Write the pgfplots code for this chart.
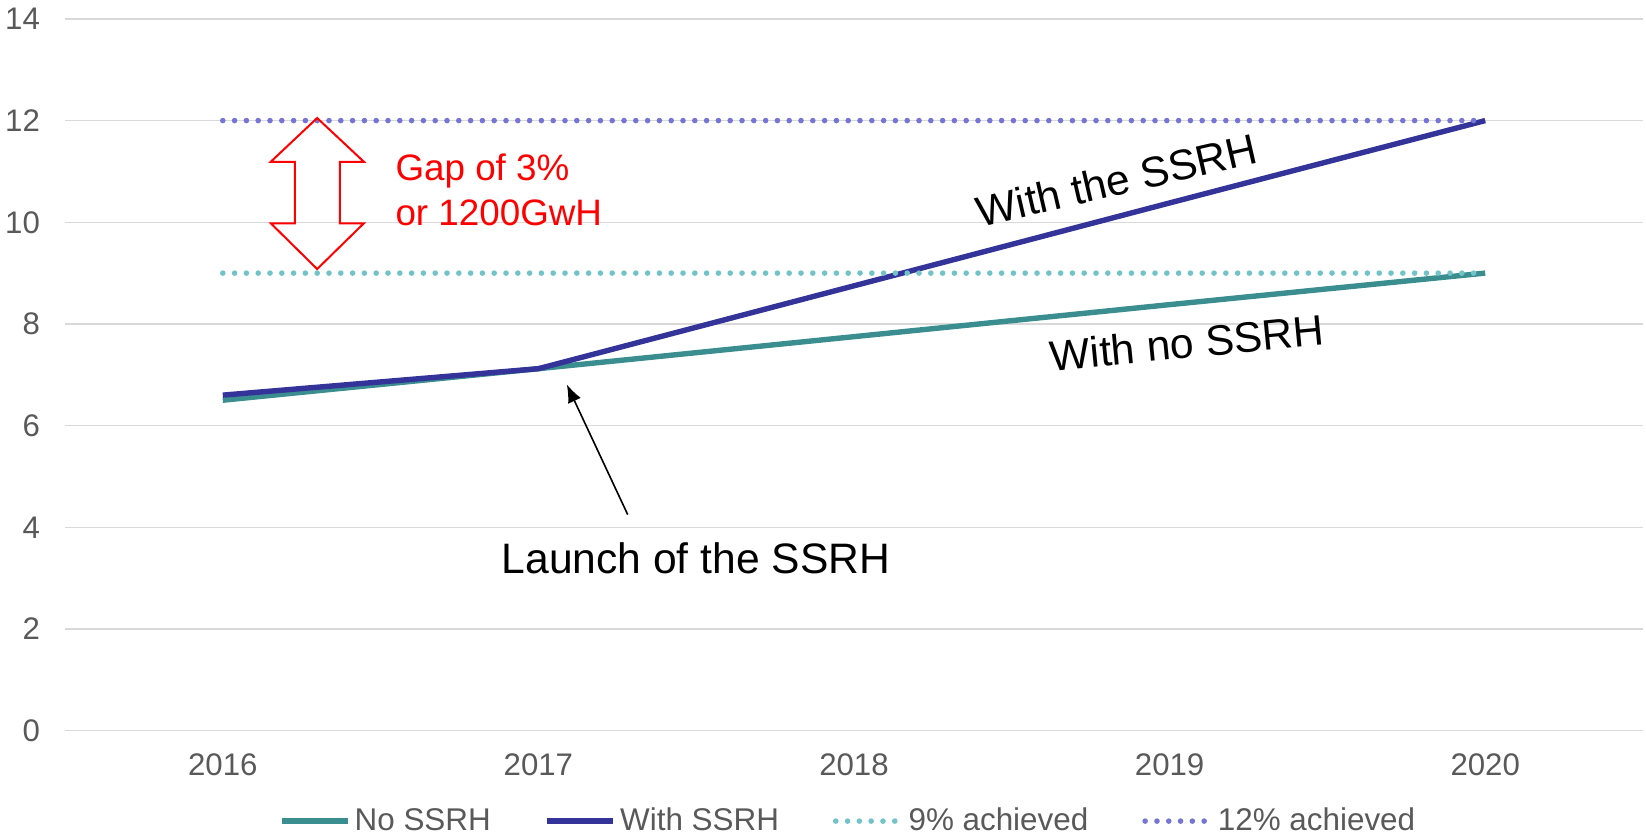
\documentclass[border=0pt]{standalone}
\usepackage{pgfplots}
\pgfplotsset{compat=1.18}
\usepackage{fontspec}
\setmainfont{Liberation Sans}
\usetikzlibrary{arrows.meta,calc}
\definecolor{noss}{HTML}{3A8E90}
\definecolor{withss}{HTML}{333399}
\definecolor{nine}{HTML}{72C3C8}
\definecolor{twelve}{HTML}{7575D6}
\definecolor{gridc}{HTML}{D9D9D9}
\definecolor{tickc}{HTML}{595959}
\begin{document}
\begin{tikzpicture}
\begin{axis}[name=ax, scale only axis, width=789pt, height=355.9pt,
  xmin=-0.5, xmax=4.5, ymin=0, ymax=14,
  xtick={0,1,2,3,4}, xticklabels={2016,2017,2018,2019,2020},
  ytick={0,2,4,6,8,10,12,14},
  ymajorgrids, grid style={draw=gridc, line width=0.75pt},
  axis line style={draw=none}, major tick length=0pt,
  tick label style={font=\fontsize{15.6}{18}\selectfont, text=tickc},
  yticklabel style={xshift=-9pt},
  xticklabel style={yshift=-8pt},
  /pgf/number format/assume math mode=true,
  clip=false,
  legend columns=4,
  legend style={at={(0.497,0)}, yshift=-45.2pt, anchor=center, draw=none,
    font=\fontsize{15.7}{18}\selectfont, text=tickc,
    /tikz/every even column/.append style={column sep=25pt}},
  legend image code/.code={\draw[#1] (0pt,0pt) -- (33pt,0pt);},
]
\addplot[noss, line width=2.7pt] coordinates {(0,6.5) (1,7.12) (2,7.75) (3,8.38) (4,9.0)};
\addlegendentry{No SSRH}
\addplot[withss, line width=2.7pt] coordinates {(0,6.6) (1,7.12) (2,8.75) (3,10.38) (4,12.0)};
\addlegendentry{With SSRH}
\addplot[nine, line width=2.8pt, line cap=round, dash pattern=on 0pt off 5.9pt] coordinates {(0,9) (1,9) (2,9) (3,9) (4,9)};
\addlegendentry{9\% achieved}
\addplot[twelve, line width=2.8pt, line cap=round, dash pattern=on 0pt off 5.9pt] coordinates {(0,12) (1,12) (2,12) (3,12) (4,12)};
\addlegendentry{12\% achieved}

% red double arrow
\draw[red, line width=1pt, line join=miter]
  (axis cs:0.299,12.05) -- (axis cs:0.447,11.19) -- (axis cs:0.371,11.19)
  -- (axis cs:0.371,9.98) -- (axis cs:0.447,9.98) -- (axis cs:0.299,9.08)
  -- (axis cs:0.152,9.98) -- (axis cs:0.228,9.98) -- (axis cs:0.228,11.19)
  -- (axis cs:0.152,11.19) -- cycle;
\node[red, anchor=base west, inner sep=0pt, font=\fontsize{18.4}{22}\selectfont] at (axis cs:0.546,10.82) {Gap of 3\%};
\node[red, anchor=base west, inner sep=0pt, font=\fontsize{18.4}{22}\selectfont] at (axis cs:0.546,9.93) {or 1200GwH};

% black arrow
\draw[black, line width=0.8pt, -{Latex[length=9pt,width=7pt]}] (axis cs:1.283,4.25) -- (axis cs:1.090,6.81);
\node[inner sep=0pt, font=\fontsize{21.3}{25}\selectfont] at (axis cs:1.499,3.39) {Launch of the SSRH};
\node[inner sep=0pt, rotate=13, font=\fontsize{21.3}{25}\selectfont] at (axis cs:2.833,10.83) {With the SSRH};
\node[inner sep=0pt, rotate=5.5, font=\fontsize{21.3}{25}\selectfont] at (axis cs:3.055,7.63) {With no SSRH};
\end{axis}
\pgfresetboundingbox
\path ($(ax.south west)+(-32.5pt,-54.2pt)$) rectangle ($(ax.north east)+(1.5pt,9.45pt)$);
\end{tikzpicture}
\end{document}
